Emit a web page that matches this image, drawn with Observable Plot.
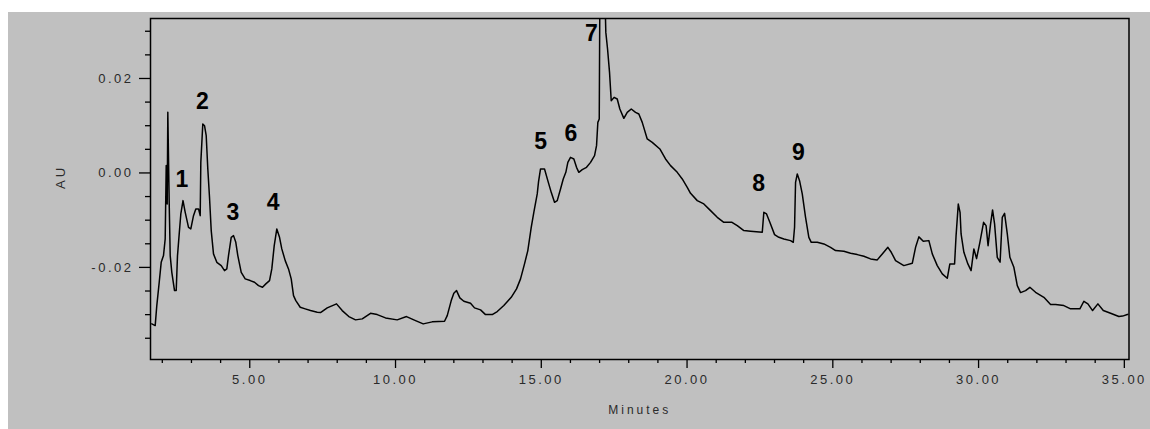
<!DOCTYPE html>
<html>
<head>
<meta charset="utf-8">
<script src="https://cdn.jsdelivr.net/npm/d3@7"></script>
<script src="https://cdn.jsdelivr.net/npm/@observablehq/plot@0.6"></script>
<style>
  html, body { margin: 0; padding: 0; background: #ffffff; }
  #panel { position: absolute; left: 8px; top: 12px; width: 1142px; height: 417px; background: #c0c0c0; overflow: hidden; }
  #panel svg { display: block; }
  g[aria-label="x-axis tick label"] text,
  g[aria-label="y-axis tick label"] text { letter-spacing: 2.5px; }
</style>
</head>
<body>
<div id="panel"></div>
<script>
// Chromatogram trace: retention time (minutes) and detector response (AU)
const minutes = [
  1.640, 1.756, 1.811, 1.894, 1.962, 2.041, 2.099, 2.134, 2.168, 2.189,
  2.237, 2.271, 2.326, 2.419, 2.477, 2.521, 2.580, 2.635, 2.710, 2.786,
  2.899, 2.978, 3.070, 3.149, 3.242, 3.300, 3.321, 3.389, 3.448, 3.506,
  3.561, 3.619, 3.678, 3.756, 3.870, 4.021, 4.134, 4.213, 4.271, 4.364,
  4.443, 4.521, 4.590, 4.707, 4.844, 5.015, 5.163, 5.300, 5.437, 5.551,
  5.678, 5.756, 5.839, 5.928, 6.021, 6.099, 6.216, 6.329, 6.422, 6.501,
  6.580, 6.731, 6.902, 7.084, 7.314, 7.427, 7.657, 7.976, 8.171, 8.398,
  8.628, 8.858, 9.142, 9.372, 9.657, 10.058, 10.377, 10.686, 10.950, 11.259,
  11.681, 11.774, 11.911, 12.000, 12.093, 12.206, 12.343, 12.573, 12.710, 12.916,
  13.087, 13.317, 13.489, 13.715, 13.969, 14.151, 14.288, 14.425, 14.538, 14.655,
  14.744, 14.861, 14.906, 14.974, 15.111, 15.224, 15.341, 15.454, 15.547, 15.660,
  15.753, 15.842, 15.911, 16.003, 16.117, 16.209, 16.288, 16.405, 16.552, 16.690,
  16.827, 16.895, 16.940, 16.988, 17.015, 17.153, 17.214, 17.273, 17.341, 17.399,
  17.498, 17.605, 17.695, 17.832, 17.948, 18.086, 18.233, 18.346, 18.463, 18.634,
  18.806, 19.067, 19.262, 19.434, 19.664, 19.835, 20.007, 20.120, 20.350, 20.576,
  20.806, 21.036, 21.262, 21.542, 21.722, 21.949, 22.178, 22.580, 22.634, 22.727,
  22.840, 23.002, 23.149, 23.321, 23.551, 23.643, 23.688, 23.722, 23.781, 23.859,
  23.952, 24.065, 24.178, 24.261, 24.467, 24.693, 24.923, 25.094, 25.379, 25.609,
  25.839, 26.065, 26.295, 26.525, 26.697, 26.889, 27.005, 27.153, 27.437, 27.726,
  27.839, 27.952, 28.103, 28.295, 28.412, 28.583, 28.755, 28.926, 29.015, 29.177,
  29.228, 29.304, 29.365, 29.400, 29.496, 29.633, 29.743, 29.839, 29.931, 30.045,
  30.172, 30.257, 30.326, 30.412, 30.480, 30.549, 30.641, 30.738, 30.813, 30.892,
  30.985, 31.074, 31.211, 31.328, 31.441, 31.612, 31.760, 31.955, 32.240, 32.470,
  32.642, 32.926, 33.156, 33.475, 33.612, 33.750, 33.911, 34.093, 34.278, 34.528,
  34.813, 34.940, 35.101, 35.180
];
const absorbance = [
  -0.03196, -0.03232, -0.02808, -0.02315, -0.01892, -0.01750, -0.01397, 0.00155, -0.00656, 0.01283,
  -0.00656, -0.01750, -0.02104, -0.02491, -0.02491, -0.01750, -0.01291, -0.00868, -0.00586, -0.00834,
  -0.01151, -0.01185, -0.00904, -0.00762, -0.00762, -0.00904, 0.00224, 0.01037, 0.01001, 0.00789,
  0.00085, -0.00516, -0.01221, -0.01714, -0.01892, -0.01962, -0.02068, -0.02032, -0.01750, -0.01363,
  -0.01327, -0.01469, -0.01750, -0.02104, -0.02243, -0.02279, -0.02315, -0.02385, -0.02421, -0.02349,
  -0.02279, -0.02032, -0.01539, -0.01185, -0.01363, -0.01608, -0.01856, -0.02032, -0.02243, -0.02597,
  -0.02703, -0.02844, -0.02878, -0.02914, -0.02950, -0.02957, -0.02857, -0.02772, -0.02914, -0.03041,
  -0.03111, -0.03090, -0.02971, -0.02999, -0.03069, -0.03111, -0.03041, -0.03126, -0.03196, -0.03153,
  -0.03141, -0.03020, -0.02703, -0.02548, -0.02491, -0.02646, -0.02717, -0.02760, -0.02857, -0.02899,
  -0.02999, -0.02999, -0.02935, -0.02808, -0.02633, -0.02455, -0.02243, -0.01926, -0.01644, -0.01151,
  -0.00834, -0.00444, -0.00184, 0.00085, 0.00085, -0.00163, -0.00411, -0.00622, -0.00586, -0.00339,
  -0.00127, 0.00013, 0.00224, 0.00330, 0.00296, 0.00119, 0.00013, 0.00070, 0.00119, 0.00224,
  0.00366, 0.00578, 0.01071, 0.01143, 0.04500, 0.04500, 0.02976, 0.02624, 0.02129, 0.01530,
  0.01600, 0.01566, 0.01354, 0.01156, 0.01283, 0.01354, 0.01283, 0.01249, 0.01071, 0.00720,
  0.00648, 0.00508, 0.00296, 0.00155, 0.00013, -0.00127, -0.00305, -0.00432, -0.00586, -0.00656,
  -0.00798, -0.00940, -0.01046, -0.01046, -0.01115, -0.01221, -0.01236, -0.01257, -0.00834, -0.00868,
  -0.01046, -0.01306, -0.01363, -0.01397, -0.01433, -0.01469, -0.01151, -0.00199, -0.00021, -0.00163,
  -0.00444, -0.00940, -0.01363, -0.01469, -0.01469, -0.01503, -0.01575, -0.01644, -0.01659, -0.01702,
  -0.01729, -0.01765, -0.01820, -0.01841, -0.01714, -0.01575, -0.01680, -0.01856, -0.01962, -0.01913,
  -0.01575, -0.01354, -0.01448, -0.01433, -0.01714, -0.01962, -0.02138, -0.02231, -0.01926, -0.01926,
  -0.01327, -0.00660, -0.00834, -0.01291, -0.01680, -0.01926, -0.02068, -0.01608, -0.01814, -0.01469,
  -0.01046, -0.01115, -0.01539, -0.01079, -0.00783, -0.01079, -0.01786, -0.01888, -0.00940, -0.00855,
  -0.01291, -0.01786, -0.01998, -0.02385, -0.02533, -0.02491, -0.02421, -0.02527, -0.02633, -0.02787,
  -0.02787, -0.02808, -0.02878, -0.02878, -0.02717, -0.02772, -0.02914, -0.02772, -0.02914, -0.02971,
  -0.03041, -0.03031, -0.02999, -0.02988
];

// Numbered peak annotations
const peakNames = ["1", "2", "3", "4", "5", "6", "7", "8", "9"];
const peakMinutes = [2.669, 3.372, 4.425, 5.798, 14.974, 16.014, 16.717, 22.453, 23.818];
const peakAU = [-0.00142, 0.01513, -0.00834, -0.00629, 0.00669, 0.00842, 0.02959, -0.00233, 0.00436];

// Axis ticks and titles
const xTicks = [5, 10, 15, 20, 25, 30, 35];
const xMinorTicks = [2, 3, 4, 6, 7, 8, 9, 11, 12, 13, 14, 16, 17, 18, 19, 21, 22, 23, 24, 26, 27, 28, 29, 31, 32, 33, 34];
const yTicks = [-0.02, 0.00, 0.02];
const yMinorTicks = [-0.035, -0.03, -0.025, -0.015, -0.01, -0.005, 0.005, 0.01, 0.015, 0.025, 0.03];
const xTitle = "Minutes";
const yTitle = "AU";

const xDomain = [1.595, 35.16];
const yDomain = [-0.0395, 0.0327];

const trace = minutes.map((m, i) => ({minutes: m, au: absorbance[i]}));
const peaks = peakNames.map((n, i) => ({name: n, minutes: peakMinutes[i], au: peakAU[i]}));

const tickText = {fontSize: 13, fill: "#2a2a2a"};
const tickLine = {stroke: "#000", strokeWidth: 1.3, label: null};

const chart = Plot.plot({
  width: 1142,
  height: 417,
  marginLeft: 142,
  marginRight: 21.5,
  marginTop: 6,
  marginBottom: 70,
  style: {background: "transparent", fontFamily: "'Liberation Sans', Arial, sans-serif", overflow: "visible"},
  x: {domain: xDomain, axis: null},
  y: {domain: yDomain, axis: null},
  marks: [
    Plot.axisX(xMinorTicks, {tickSize: 4, tickFormat: () => "", ...tickLine}),
    Plot.axisX(xTicks, {tickSize: 9, tickPadding: 6, tickFormat: d => d.toFixed(2), ...tickLine, ...tickText}),
    Plot.axisY(yMinorTicks, {tickSize: 5, tickFormat: () => "", ...tickLine}),
    Plot.axisY(yTicks, {tickSize: 11, tickPadding: 6, tickFormat: d => d.toFixed(2), ...tickLine, ...tickText}),
    Plot.line(trace, {x: "minutes", y: "au", stroke: "#000", strokeWidth: 1.5, clip: true}),
    Plot.frame({stroke: "#000", strokeWidth: 1.5}),
    Plot.text(peaks, {x: "minutes", y: "au", text: "name", fontSize: 23, fontWeight: "bold", fill: "#000", lineAnchor: "middle"}),
    Plot.text([yTitle], {text: d => d, frameAnchor: "left", dx: -90, rotate: -90, fontSize: 13, fill: "#2a2a2a", lineAnchor: "middle"}),
    Plot.text([xTitle], {text: d => d, frameAnchor: "bottom", dy: 51, fontSize: 12, fill: "#2a2a2a", lineAnchor: "middle"})
  ]
});

// spaced lettering for the axis titles
d3.select(chart).selectAll("text")
  .filter(function () { return this.textContent === xTitle || this.textContent === yTitle; })
  .style("letter-spacing", "3px");

document.getElementById("panel").appendChild(chart);
</script>
</body>
</html>
